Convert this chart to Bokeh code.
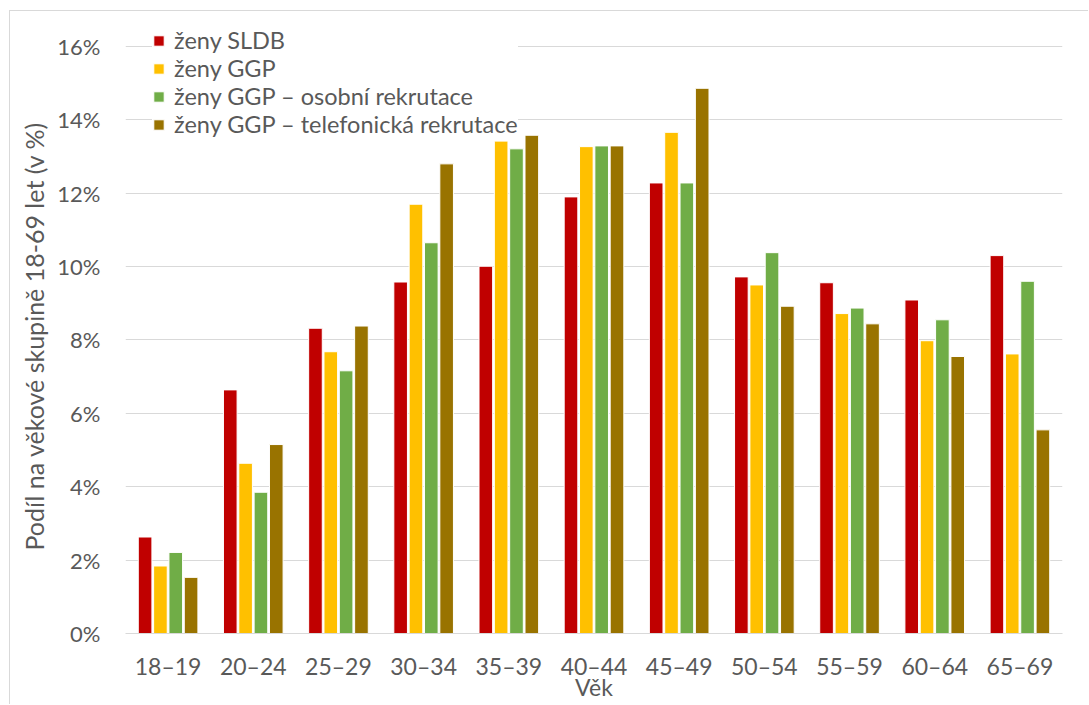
from bokeh.plotting import figure
from bokeh.models import FactorRange, FixedTicker, PrintfTickFormatter, ColumnDataSource, Title
from bokeh.transform import dodge
from bokeh.embed import file_html
from bokeh.resources import INLINE

categories = ["18–19", "20–24", "25–29", "30–34", "35–39", "40–44",
              "45–49", "50–54", "55–59", "60–64", "65–69"]
zeny_sldb = [2.63, 6.64, 8.32, 9.58, 10.01, 11.90, 12.28, 9.72, 9.56, 9.09, 10.30]
zeny_ggp = [1.84, 4.64, 7.68, 11.70, 13.42, 13.27, 13.66, 9.50, 8.72, 7.98, 7.62]
zeny_ggp_osobni = [2.21, 3.85, 7.16, 10.65, 13.21, 13.29, 12.28, 10.38, 8.87, 8.55, 9.60]
zeny_ggp_telefon = [1.53, 5.15, 8.38, 12.80, 13.58, 13.29, 14.86, 8.92, 8.44, 7.55, 5.55]

series_names = ["ženy SLDB", "ženy GGP", "ženy GGP – osobní rekrutace",
                "ženy GGP – telefonická rekrutace"]
colors = ["#C00000", "#FFC000", "#70AD47", "#997300"]
y_ticks = [0, 2, 4, 6, 8, 10, 12, 14, 16]
y_title = "Podíl na věkové skupině 18-69 let (v %)"
x_title = "Věk"

FONT = "Lato"
TXT = "#595959"

source = ColumnDataSource(dict(cat=categories, s0=zeny_sldb, s1=zeny_ggp,
                               s2=zeny_ggp_osobni, s3=zeny_ggp_telefon))

p = figure(width=1079, height=694, output_backend="svg", toolbar_location=None,
           x_range=FactorRange(*categories, range_padding=0),
           y_range=(0, 16.953),
           min_border_left=115, min_border_right=27, min_border_top=0,
           min_border_bottom=72)
p.outline_line_color = None
p.background_fill_color = "white"
p.border_fill_color = "white"
p.styles = {"border-left": "1px solid #D9D9D9", "border-top": "1px solid #D9D9D9",
            "margin-left": "9px", "margin-top": "10px"}

offsets = [-0.27, -0.09, 0.09, 0.27]
for i, (name, col) in enumerate(zip(series_names, colors)):
    p.vbar(x=dodge("cat", offsets[i], range=p.x_range), top="s%d" % i,
           width=0.16, source=source, fill_color=col, line_color="white",
           line_width=1, legend_label=name)

p.yaxis.ticker = FixedTicker(ticks=y_ticks)
p.yaxis.formatter = PrintfTickFormatter(format="%d%%")
p.yaxis.axis_line_color = None
p.yaxis.major_tick_line_color = None
p.yaxis.major_tick_out = 0
p.yaxis.major_tick_in = 0
p.yaxis.minor_tick_line_color = None
p.yaxis.major_label_standoff = 25
p.yaxis.major_label_text_font = FONT
p.yaxis.major_label_text_font_size = "22px"
p.yaxis.major_label_text_color = TXT

yt = Title(text=y_title, align="left", offset=83, standoff=12,
           text_font=FONT, text_font_size="25px", text_font_style="normal",
           text_color=TXT)
p.add_layout(yt, "left")

p.xaxis.axis_line_color = "#D9D9D9"
p.xaxis.axis_line_width = 1
p.xaxis.major_tick_line_color = None
p.xaxis.major_tick_out = 0
p.xaxis.major_tick_in = 0
p.xaxis.minor_tick_line_color = None
p.xaxis.major_label_standoff = 18
p.xaxis.major_label_text_font = FONT
p.xaxis.major_label_text_font_size = "23px"
p.xaxis.major_label_text_color = TXT
p.xaxis.axis_label = x_title
p.xaxis.axis_label_text_font = FONT
p.xaxis.axis_label_text_font_size = "23px"
p.xaxis.axis_label_text_font_style = "normal"
p.xaxis.axis_label_text_color = TXT
p.xaxis.axis_label_standoff = -10

p.xgrid.grid_line_color = None
p.ygrid.grid_line_color = "#D9D9D9"
p.ygrid.grid_line_width = 1

lg = p.legend[0]
lg.location = (27, 495)
lg.margin = 0
lg.padding = 0
lg.border_line_color = None
lg.background_fill_color = "white"
lg.background_fill_alpha = 1
lg.label_text_font = FONT
lg.label_text_font_size = "23.5px"
lg.label_text_color = TXT
lg.glyph_width = 13
lg.glyph_height = 13
lg.spacing = 0
lg.label_standoff = 9

open("out.html", "w").write(file_html(p, INLINE))
